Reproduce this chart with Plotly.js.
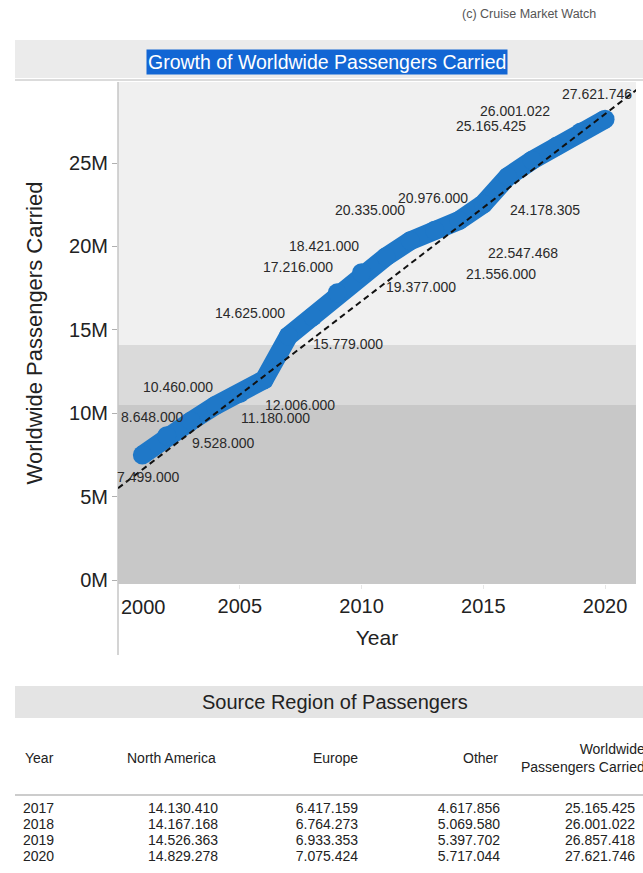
<!DOCTYPE html>
<html>
<head>
<meta charset="utf-8">
<script src="https://cdn.plot.ly/plotly-3.0.1.min.js"></script>
<style>
  html, body { margin: 0; padding: 0; background: #ffffff; }
  #chart { width: 643px; height: 873px; }
</style>
</head>
<body>
<div id="chart"></div>
<script>
// ---------------- data ----------------
const years = [2001, 2002, 2003, 2004, 2005, 2006, 2007, 2008, 2009, 2010,
               2011, 2012, 2013, 2014, 2015, 2016, 2017, 2018, 2019, 2020];
const passengers = [7499000, 8648000, 9528000, 10460000, 11180000, 12006000,
                    14625000, 15779000, 17216000, 18421000, 19377000, 20335000,
                    20976000, 21556000, 22547468, 24178305, 25165425, 26001022,
                    26857418, 27621746];
// trend line (start / end of the dashed line)
const trendYears = [2000, 2021.3];
const trendValues = [5500000, 29400000];

const xTickVals = [2000, 2005, 2010, 2015, 2020];
const xTickText = ['2000', '2005', '2010', '2015', '2020'];
const yTickVals = [0, 5000000, 10000000, 15000000, 20000000, 25000000];
const yTickText = ['0M', '5M', '10M', '15M', '20M', '25M'];

// table
const tableTitle = 'Source Region of Passengers';
const tableHeaders = ['Year', 'North America', 'Europe', 'Other', 'Worldwide<br>Passengers Carried'];
const tableYears = ['2017', '2018', '2019', '2020'];
const northAmerica = [14130410, 14167168, 14526363, 14829278];
const europe = [6417159, 6764273, 6933353, 7075424];
const other = [4617856, 5069580, 5397702, 5717044];
const worldwide = [25165425, 26001022, 26857418, 27621746];

// label placement (pixel offsets from each point; null = label hidden)
const labelShift = [[6,22],[-15,-19],[32,22],[-37,-19],[36,24],[36,25],[-38,-23],[35,27],
                    [-39,-26],[-38,-27],[35,30],[-40,-31],[-2,-32],[42,54],[40,49],[37,33],
                    [-41,-34],[-41,-35],null,[-8,-25]];

// ---------------- helpers ----------------
const W = 643, H = 873;
const px = x => x / W;
const py = y => 1 - y / H;
const fmt = n => String(n).replace(/\B(?=(\d{3})+(?!\d))/g, '.');
const FONT = 'Liberation Sans, Arial, sans-serif';

const plotL = 118, plotR = 636, plotT = 82, plotB = 584;

// ---------------- traces ----------------
const lineTrace = {
  type: 'scatter', mode: 'lines+markers',
  x: years, y: passengers,
  line: { color: '#1f78c8', width: 19 },
  marker: { color: '#1f78c8', size: 19 },
  hoverinfo: 'skip', showlegend: false
};
const trendTrace = {
  type: 'scatter', mode: 'lines',
  x: trendYears, y: trendValues,
  line: { color: '#111111', width: 2, dash: '6px,4px' },
  hoverinfo: 'skip', showlegend: false
};
const tableTrace = {
  type: 'table',
  domain: { x: [px(15), 1], y: [py(873), py(778)] },
  columnwidth: [75, 136, 140, 142, 135],
  header: { values: [], height: 1, line: { width: 0, color: 'rgba(0,0,0,0)' }, fill: { color: 'rgba(0,0,0,0)' } },
  cells: {
    values: [tableYears, northAmerica.map(fmt), europe.map(fmt), other.map(fmt), worldwide.map(fmt)],
    align: ['left', 'right', 'right', 'right', 'right'],
    height: 16,
    font: { family: FONT, size: 14, color: '#222222' },
    line: { width: 0, color: 'rgba(0,0,0,0)' },
    fill: { color: 'rgba(0,0,0,0)' }
  }
};

// ---------------- annotations ----------------
const annotations = [];
annotations.push({
  text: '(c) Cruise Market Watch', xref: 'paper', yref: 'paper',
  x: px(529), y: py(14), xanchor: 'center', yanchor: 'middle', showarrow: false,
  font: { family: FONT, size: 12.5, color: '#555555' }
});
annotations.push({
  text: 'Growth of Worldwide Passengers Carried', xref: 'paper', yref: 'paper',
  x: px(327), y: py(62), xanchor: 'center', yanchor: 'middle', showarrow: false,
  bgcolor: '#1266d4', borderpad: 1,
  font: { family: FONT, size: 19.5, color: '#ffffff' }
});
// first x tick label sits inside the pane (left aligned at the axis)
annotations.push({
  text: xTickText[0], xref: 'x', yref: 'paper', x: xTickVals[0], y: py(607),
  xanchor: 'left', yanchor: 'middle', showarrow: false, xshift: 1,
  font: { family: FONT, size: 20, color: '#222222' }
});
annotations.push({
  text: tableTitle, xref: 'paper', yref: 'paper', x: px(335), y: py(702),
  xanchor: 'center', yanchor: 'middle',
  showarrow: false, font: { family: FONT, size: 20, color: '#222222' }
});
// table header
const headerX = [23, 218, 360, 500, 647];
tableHeaders.forEach((h, i) => {
  annotations.push({
    text: h, xref: 'paper', yref: 'paper', x: px(headerX[i]), y: py(758),
    xanchor: i === 0 ? 'left' : 'right', yanchor: 'middle', align: i === 0 ? 'left' : 'right',
    showarrow: false, font: { family: FONT, size: 14, color: '#222222' }
  });
});
// data labels
years.forEach((yr, i) => {
  const s = labelShift[i];
  if (!s) return;
  annotations.push({
    text: fmt(passengers[i]), xref: 'x', yref: 'y', x: yr, y: passengers[i],
    xanchor: 'center', yanchor: 'middle',
    xshift: s[0], yshift: -s[1], showarrow: false,
    font: { family: FONT, size: 14, color: '#2a2a2a' }
  });
});

// ---------------- shapes ----------------
const shapes = [
  // header band
  { type: 'rect', xref: 'paper', yref: 'paper', x0: px(15), x1: 1, y0: py(78), y1: py(40),
    fillcolor: '#ebebeb', line: { width: 0 }, layer: 'below' },
  { type: 'line', xref: 'paper', yref: 'paper', x0: px(15), x1: 1, y0: py(80), y1: py(80),
    line: { color: '#b8b8b8', width: 1 }, layer: 'below' },
  // pane shading
  { type: 'rect', xref: 'paper', yref: 'paper', x0: px(plotL), x1: px(plotR), y0: py(345), y1: py(plotT),
    fillcolor: '#f0f0f0', line: { width: 0 }, layer: 'below' },
  { type: 'rect', xref: 'paper', yref: 'paper', x0: px(plotL), x1: px(plotR), y0: py(405), y1: py(345),
    fillcolor: '#dadada', line: { width: 0 }, layer: 'below' },
  { type: 'rect', xref: 'paper', yref: 'paper', x0: px(plotL), x1: px(plotR), y0: py(plotB), y1: py(405),
    fillcolor: '#c8c8c8', line: { width: 0 }, layer: 'below' },
  // axis line continuing down
  { type: 'line', xref: 'paper', yref: 'paper', x0: px(plotL), x1: px(plotL), y0: py(655), y1: py(plotT),
    line: { color: '#c6c6c6', width: 1.5 }, layer: 'below' },
  // table title band
  { type: 'rect', xref: 'paper', yref: 'paper', x0: px(15), x1: 1, y0: py(718), y1: py(686),
    fillcolor: '#e4e4e4', line: { width: 0 }, layer: 'below' },
  // table header line
  { type: 'line', xref: 'paper', yref: 'paper', x0: px(15), x1: 1, y0: py(795), y1: py(795),
    line: { color: '#9a9a9a', width: 1.2 }, layer: 'below' }
];

const layout = {
  width: W, height: H,
  margin: { l: 0, r: 0, t: 0, b: 0 },
  paper_bgcolor: '#ffffff', plot_bgcolor: 'rgba(0,0,0,0)',
  showlegend: false,
  font: { family: FONT, color: '#222222' },
  xaxis: {
    domain: [px(plotL), px(plotR)],
    range: [2000, 2021.27],
    tickvals: xTickVals.slice(1), ticktext: xTickText.slice(1),
    showgrid: false, zeroline: false, showline: false,
    ticks: 'outside', ticklen: 4, tickcolor: '#e6e6e6',
    tickfont: { family: FONT, size: 20, color: '#222222' },
    title: { text: 'Year', font: { family: FONT, size: 21, color: '#222222' }, standoff: 14 },
    fixedrange: true
  },
  yaxis: {
    domain: [py(plotB), py(plotT)],
    range: [-240000, 29860000],
    tickvals: yTickVals, ticktext: yTickText,
    showgrid: false, zeroline: false, showline: false,
    ticks: 'outside', ticklen: 5, tickcolor: '#b0b0b0',
    tickfont: { family: FONT, size: 20, color: '#222222' },
    title: { text: 'Worldwide Passengers Carried', font: { family: FONT, size: 22, color: '#222222' }, standoff: 20 },
    fixedrange: true
  },
  shapes: shapes,
  annotations: annotations
};

Plotly.newPlot('chart', [lineTrace, trendTrace, tableTrace], layout, { displayModeBar: false, staticPlot: true });
</script>
</body>
</html>
